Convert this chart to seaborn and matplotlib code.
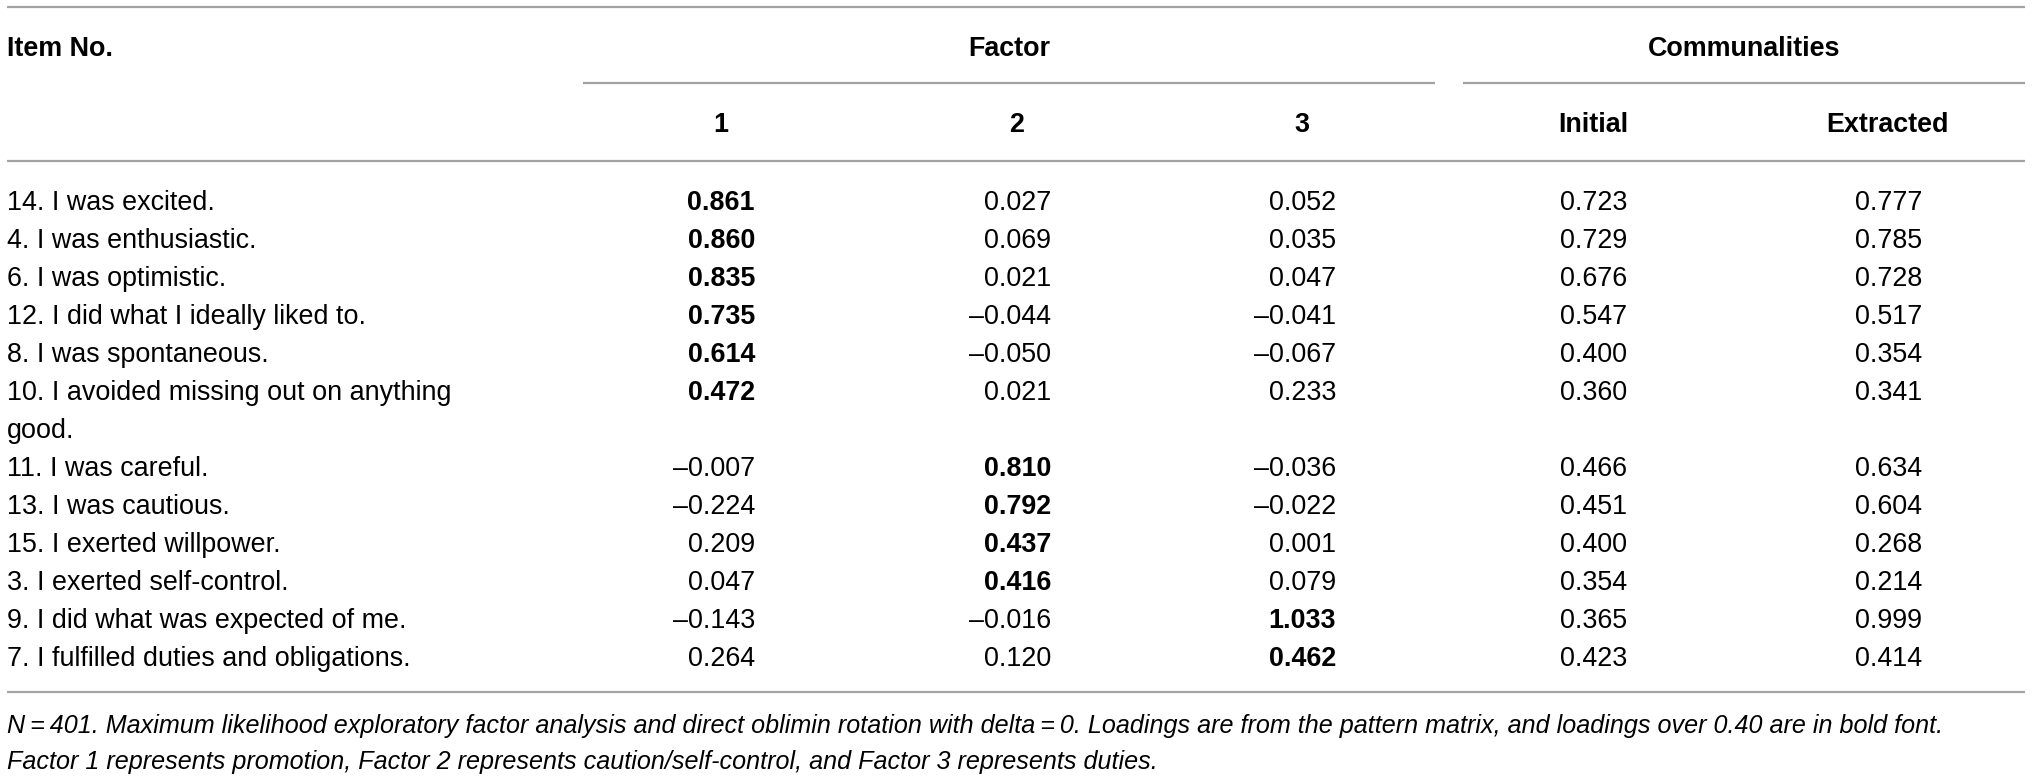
import matplotlib
matplotlib.use("Agg")
import matplotlib.pyplot as plt
import seaborn as sns

# ======================================
# Table data
# ======================================

items = [
    "14. I was excited.",
    "4. I was enthusiastic.",
    "6. I was optimistic.",
    "12. I did what I ideally liked to.",
    "8. I was spontaneous.",
    "10. I avoided missing out on anything\ngood.",
    "11. I was careful.",
    "13. I was cautious.",
    "15. I exerted willpower.",
    "3. I exerted self-control.",
    "9. I did what was expected of me.",
    "7. I fulfilled duties and obligations.",
]

factor1 = [0.861, 0.860, 0.835, 0.735, 0.614, 0.472, -0.007, -0.224, 0.209, 0.047, -0.143, 0.264]
factor2 = [0.027, 0.069, 0.021, -0.044, -0.050, 0.021, 0.810, 0.792, 0.437, 0.416, -0.016, 0.120]
factor3 = [0.052, 0.035, 0.047, -0.041, -0.067, 0.233, -0.036, -0.022, 0.001, 0.079, 1.033, 0.462]
initial = [0.723, 0.729, 0.676, 0.547, 0.400, 0.360, 0.466, 0.451, 0.400, 0.354, 0.365, 0.423]
extracted = [0.777, 0.785, 0.728, 0.517, 0.354, 0.341, 0.634, 0.604, 0.268, 0.214, 0.999, 0.414]

sub_headers = ["1", "2", "3", "Initial", "Extracted"]

note_1 = ("N\u2009=\u2009401. Maximum likelihood exploratory factor analysis and direct oblimin "
          "rotation with delta\u2009=\u20090. Loadings are from the pattern matrix, and loadings "
          "over 0.40 are in bold font.")
note_2 = ("Factor 1 represents promotion, Factor 2 represents caution/self-control, "
          "and Factor 3 represents duties.")

# ======================================
# Figure setup
# ======================================

sns.set_theme(style="white")
plt.rcParams["font.family"] = ["Liberation Sans", "DejaVu Sans"]

W, H = 2032, 781
fig = plt.figure(figsize=(W / 100, H / 100), dpi=100)
ax = fig.add_axes([0, 0, 1, 1])
ax.set_xlim(0, W)
ax.set_ylim(H, 0)
ax.axis("off")

fs = 19.4
line_color = "#a3a3a3"
lw = 1.6
col_centers = [721, 1017, 1302, 1593, 1888]
half_num = 34
cap = 9.5  # half of cap height, px

def put(x, y, s, size=fs, **kw):
    return ax.text(x, y + cap, s, fontsize=size, va="baseline", color="black", **kw)

# ======================================
# Rules
# ======================================

ax.hlines(7, 7, 2025, color=line_color, lw=lw)
ax.hlines(83, 583, 1435, color=line_color, lw=lw)
ax.hlines(83, 1463, 2025, color=line_color, lw=lw)
ax.hlines(161, 7, 2025, color=line_color, lw=lw)
ax.hlines(692, 7, 2025, color=line_color, lw=lw)

# ======================================
# Headers
# ======================================

put(7, 47, "Item No.", ha="left", fontweight="bold")
put(1009, 47, "Factor", ha="center", fontweight="bold")
put(1744, 47, "Communalities", ha="center", fontweight="bold")
for x, h in zip(col_centers, sub_headers):
    put(x, 123, h, ha="center", fontweight="bold")

# ======================================
# Body
# ======================================

def fmt(v):
    s = f"{abs(v):.3f}"
    return "\u2013" + s if v < 0 else s

y = 200
step = 38
for i, item in enumerate(items):
    lines = item.split("\n")
    for k, ln in enumerate(lines):
        put(7, y + k * step, ln, ha="left")
    for j, col in enumerate([factor1, factor2, factor3]):
        v = col[i]
        put(col_centers[j] + half_num, y, fmt(v), ha="right",
            fontweight="bold" if abs(v) > 0.40 else "normal")
    put(col_centers[3] + half_num, y, fmt(initial[i]), ha="right")
    put(col_centers[4] + half_num, y, fmt(extracted[i]), ha="right")
    y += step * len(lines)

# ======================================
# Footnote (sized so line 1 ends where the reference does)
# ======================================

t1 = put(7, 724, note_1, ha="left", style="italic")
fig.canvas.draw()
width = t1.get_window_extent().width
note_fs = fs * 1936 / width
t1.set_fontsize(note_fs)
put(7, 760, note_2, size=note_fs, ha="left", style="italic")

fig.savefig("out.png", dpi=100)
